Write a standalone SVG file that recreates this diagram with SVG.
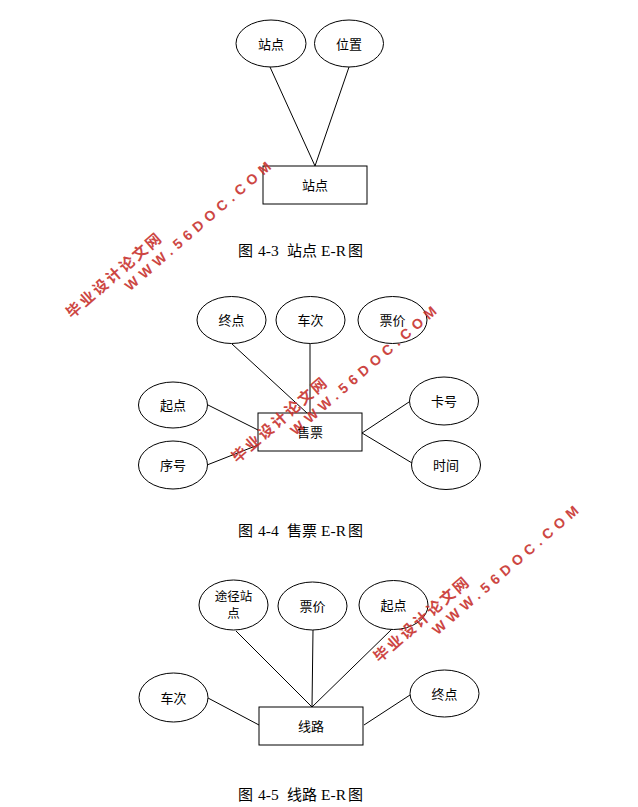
<svg xmlns="http://www.w3.org/2000/svg" width="638" height="807" viewBox="0 0 638 807">
<style>
.e{fill:#fff;stroke:#000;stroke-width:1}
.r{fill:#fff;stroke:#000;stroke-width:1}
.c line{stroke:#000;stroke-width:1}
.t{font-family:"Noto Sans CJK SC","Noto Sans",sans-serif;font-size:13px;text-anchor:middle;fill:#000}
.t2{font-size:12.5px}
.cap{font-family:"Liberation Serif","Noto Sans CJK SC",serif;font-size:15.5px;fill:#000}
.cj{font-family:"Noto Sans CJK SC",sans-serif;font-size:15px}
.wm{fill:#c8322e;opacity:0.9;font-weight:bold;text-anchor:middle}
.wm1{font-family:"Noto Sans CJK SC",sans-serif;font-size:15px}
.wm2{font-family:"Liberation Sans",Arial,sans-serif;font-size:14px}
</style>
<rect width="638" height="807" fill="#fff"/>

<g id="connectors" class="c">
<line x1="270" y1="67" x2="315" y2="166"/>
<line x1="349" y1="67" x2="315" y2="166"/>
<line x1="232" y1="344" x2="307" y2="413"/>
<line x1="310" y1="343.5" x2="310" y2="413"/>
<line x1="208" y1="405" x2="258" y2="430"/>
<line x1="207" y1="465" x2="258" y2="445"/>
<line x1="409" y1="402" x2="362" y2="433"/>
<line x1="412" y1="463" x2="362" y2="433"/>
<line x1="236" y1="631" x2="312" y2="707"/>
<line x1="313" y1="630" x2="312" y2="707"/>
<line x1="392" y1="629" x2="312" y2="707"/>
<line x1="208" y1="698" x2="259" y2="725"/>
<line x1="410" y1="695" x2="364" y2="725"/>
</g>

<!-- Figure 4-3 -->
<g id="f3-zhandian-attr"><ellipse class="e" cx="271" cy="43.5" rx="35" ry="23.5"/><text class="t" x="271" y="48.5">站点</text></g>
<g id="f3-weizhi"><ellipse class="e" cx="349" cy="43.5" rx="34.5" ry="23.5"/><text class="t" x="349" y="48.5">位置</text></g>
<g id="f3-zhandian"><rect class="r" x="263" y="166" width="104" height="38"/><text class="t" x="315" y="190">站点</text></g>
<text class="cap" y="256"><tspan class="cj" x="238">图</tspan><tspan x="258">4-3</tspan><tspan class="cj" x="287">站点</tspan><tspan x="321">E-R</tspan><tspan class="cj" x="348">图</tspan></text>

<!-- Figure 4-4 -->
<g id="f4-zhongdian"><ellipse class="e" cx="231.5" cy="320" rx="34.5" ry="23.5"/><text class="t" x="231.5" y="325">终点</text></g>
<g id="f4-checi"><ellipse class="e" cx="310.5" cy="320" rx="34.5" ry="23.5"/><text class="t" x="310.5" y="325">车次</text></g>
<g id="f4-piaojia"><ellipse class="e" cx="392.5" cy="320" rx="34.5" ry="23.5"/><text class="t" x="392.5" y="325">票价</text></g>
<g id="f4-qidian"><ellipse class="e" cx="173" cy="405" rx="34.5" ry="23"/><text class="t" x="173" y="410">起点</text></g>
<g id="f4-xuhao"><ellipse class="e" cx="173" cy="465" rx="34.5" ry="24"/><text class="t" x="173" y="470">序号</text></g>
<g id="f4-kahao"><ellipse class="e" cx="444" cy="401" rx="34.5" ry="24"/><text class="t" x="444" y="406">卡号</text></g>
<g id="f4-shijian"><ellipse class="e" cx="446" cy="465" rx="34.5" ry="24.5"/><text class="t" x="446" y="470">时间</text></g>
<g id="f4-shoupiao"><rect class="r" x="258" y="413" width="104" height="38"/><text class="t" x="310" y="437">售票</text></g>
<text class="cap" y="536"><tspan class="cj" x="238">图</tspan><tspan x="258">4-4</tspan><tspan class="cj" x="287">售票</tspan><tspan x="321">E-R</tspan><tspan class="cj" x="348">图</tspan></text>

<!-- Figure 4-5 -->
<g id="f5-tujing"><ellipse class="e" cx="233.5" cy="605" rx="34.5" ry="25"/><text class="t t2" x="233.5" y="600.5">途径站</text><text class="t t2" x="233.5" y="618">点</text></g>
<g id="f5-piaojia"><ellipse class="e" cx="312.5" cy="606" rx="34.5" ry="24"/><text class="t" x="312.5" y="611">票价</text></g>
<g id="f5-qidian"><ellipse class="e" cx="393.5" cy="605" rx="34.5" ry="24.5"/><text class="t" x="393.5" y="610">起点</text></g>
<g id="f5-checi"><ellipse class="e" cx="173.5" cy="697.5" rx="34.5" ry="24.5"/><text class="t" x="173.5" y="702.5">车次</text></g>
<g id="f5-zhongdian"><ellipse class="e" cx="444.5" cy="693.5" rx="34.5" ry="23.5"/><text class="t" x="444.5" y="698.5">终点</text></g>
<g id="f5-xianlu"><rect class="r" x="259" y="707" width="104" height="38"/><text class="t" x="311" y="731">线路</text></g>
<text class="cap" y="800"><tspan class="cj" x="238">图</tspan><tspan x="258">4-5</tspan><tspan class="cj" x="287">线路</tspan><tspan x="321">E-R</tspan><tspan class="cj" x="348">图</tspan></text>

<!-- watermarks -->
<g class="wm" transform="translate(113.5,275.5) rotate(-41)"><text class="wm1" x="0" y="5.5" textLength="120" lengthAdjust="spacing">毕业设计论文网</text><text class="wm2" x="96" y="23" textLength="188" lengthAdjust="spacing">WWW.56DOC.COM</text></g>
<g class="wm" transform="translate(279,420) rotate(-41)"><text class="wm1" x="0" y="5.5" textLength="120" lengthAdjust="spacing">毕业设计论文网</text><text class="wm2" x="96" y="23" textLength="188" lengthAdjust="spacing">WWW.56DOC.COM</text></g>
<g class="wm" transform="translate(421,619.5) rotate(-41)"><text class="wm1" x="0" y="5.5" textLength="120" lengthAdjust="spacing">毕业设计论文网</text><text class="wm2" x="96" y="23" textLength="188" lengthAdjust="spacing">WWW.56DOC.COM</text></g>
</svg>
